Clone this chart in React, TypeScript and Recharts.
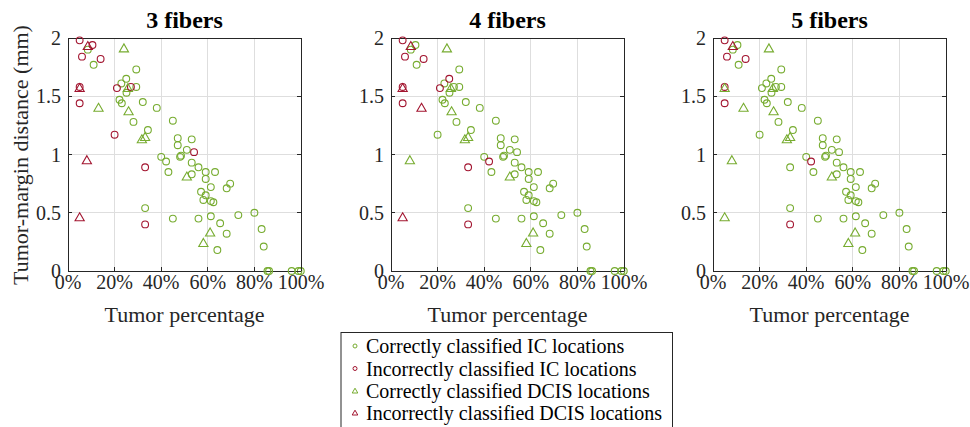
import React from "react";
import { ScatterChart, Scatter, XAxis, YAxis, CartesianGrid, ReferenceArea } from "recharts";

// IC locations: tumor percentage (%), tumor-margin distance (mm)
const icPct = [
  5, 6, 14, 5, 5, 10.5, 8.5, 11, 29.3, 25, 22.9, 21, 27, 29.3, 25.1, 22.1, 23.1, 32.1, 38.1, 28.1,
  20, 34.3, 45, 47.1, 53.1, 47.1, 51, 54.1, 40, 48.1, 48.5, 42.1, 53.1, 56, 53.1, 59.1, 59.1, 63.1,
  33.1, 43.1, 69.6, 68.1, 57.1, 59.1, 58.1, 61.3, 61.3, 62.4, 33.1, 45, 56, 61.3, 65.3, 73.1, 80,
  68.1, 64.1, 83.1, 84, 85.6, 86.3, 96, 98.9, 99.9, 33.1,
];
const icDist = [
  1.98, 1.84, 1.82, 1.58, 1.44, 1.94, 1.9, 1.77, 1.73, 1.65, 1.61, 1.57, 1.58, 1.58, 1.53, 1.47,
  1.44, 1.45, 1.4, 1.28, 1.17, 1.21, 1.29, 1.14, 1.13, 1.08, 1.04, 1.02, 0.98, 0.98, 0.99, 0.94,
  0.93, 0.89, 0.83, 0.85, 0.79, 0.85, 0.89, 0.85, 0.75, 0.71, 0.68, 0.65, 0.61, 0.72, 0.6, 0.59,
  0.54, 0.45, 0.45, 0.47, 0.41, 0.48, 0.5, 0.32, 0.18, 0.36, 0.21, 0, 0, 0, 0, 0, 0.4,
];
// 1 = correctly classified, 0 = incorrectly classified (per number of fibers)
const icOk3 = [
  0, 0, 0, 0, 0, 0, 1, 1, 1, 1, 1, 0, 0, 1, 1, 1, 1, 1, 1, 1, 0, 1, 1, 1, 1, 1, 1, 0, 1, 1, 1, 1,
  1, 1, 1, 1, 1, 1, 0, 1, 1, 1, 1, 1, 1, 1, 1, 1, 1, 1, 1, 1, 1, 1, 1, 1, 1, 1, 1, 1, 1, 1, 1, 1, 0,
];
const icOk4 = [
  0, 0, 0, 0, 0, 1, 1, 1, 1, 0, 1, 0, 1, 1, 1, 1, 1, 1, 1, 1, 1, 1, 1, 1, 1, 1, 1, 1, 1, 1, 1, 0,
  1, 1, 1, 1, 1, 1, 0, 1, 1, 1, 1, 1, 1, 1, 1, 1, 1, 1, 1, 1, 1, 1, 1, 1, 1, 1, 1, 1, 1, 1, 1, 1, 0,
];
const icOk5 = [
  0, 0, 0, 0, 0, 1, 1, 1, 1, 1, 1, 1, 1, 1, 1, 1, 1, 1, 1, 1, 1, 1, 1, 1, 1, 1, 1, 1, 1, 1, 1, 0,
  1, 1, 1, 1, 1, 1, 1, 1, 1, 1, 1, 1, 1, 1, 1, 1, 1, 1, 1, 1, 1, 1, 1, 1, 1, 1, 1, 1, 1, 1, 1, 1, 0,
];

// DCIS locations
const dcisPct = [8.5, 5, 24, 13.1, 26, 25.7, 31.7, 33.1, 51, 61, 58.1, 8.1, 5];
const dcisDist = [1.93, 1.57, 1.91, 1.4, 1.37, 1.57, 1.13, 1.15, 0.81, 0.33, 0.24, 0.95, 0.46];
const dcisOk3 = [0, 0, 1, 1, 1, 1, 1, 1, 1, 1, 1, 0, 0];
const dcisOk4 = [0, 0, 1, 0, 1, 1, 1, 1, 1, 1, 1, 1, 0];
const dcisOk5 = [0, 1, 1, 1, 1, 1, 1, 1, 1, 1, 1, 1, 1];

const panelTitles = ["3 fibers", "4 fibers", "5 fibers"];
const xTicksMinor = [0, 5, 10, 15, 20, 25, 30, 35, 40, 45, 50, 55, 60, 65, 70, 75, 80, 85, 90, 95, 100];
const xTicksMajor = [0, 20, 40, 60, 80, 100];
const yTicks = [0, 0.5, 1, 1.5, 2];
const legendLabels = [
  "Correctly classified IC locations",
  "Incorrectly classified IC locations",
  "Correctly classified DCIS locations",
  "Incorrectly classified DCIS locations",
];

const GREEN = "#77AC30";
const RED = "#A2142F";
const AXIS = "#262626";
const FONT = "'Liberation Serif', 'Times New Roman', serif";

const PLOT_LEFTS = [68, 391, 713];
const PLOT_W = 233;
const PLOT_H = 233;
const Y_AXIS_W = 68;

type Pt = { x: number; y: number };

function pick(pct: number[], dist: number[], ok: number[], want: number): Pt[] {
  const out: Pt[] = [];
  pct.forEach((p, i) => {
    if (ok[i] === want) out.push({ x: p, y: dist[i] });
  });
  return out;
}

const circleShape = (color: string) => (props: any) => (
  <circle cx={props.cx} cy={props.cy} r={3.4} fill="none" stroke={color} strokeWidth={1.1} />
);

const triangleShape = (color: string) => (props: any) => {
  const { cx, cy } = props;
  return (
    <path
      d={`M${cx},${cy - 4.6} L${cx + 4.6},${cy + 3.4} L${cx - 4.6},${cy + 3.4} Z`}
      fill="none"
      stroke={color}
      strokeWidth={1.1}
    />
  );
};

// major ticks + labels on the bottom edge
const BottomTick = (props: any) => {
  const { x, y, payload } = props;
  return (
    <g>
      <line x1={x} x2={x} y1={y} y2={y - 4} stroke={AXIS} strokeWidth={1} shapeRendering="crispEdges" />
      <text x={x} y={y + 18} textAnchor="middle" fontSize={20} fontFamily={FONT} fill={AXIS}>
        {payload.value}%
      </text>
    </g>
  );
};

// all ticks on the top edge, minor ticks mirrored on the bottom edge
const TopTick = (props: any) => {
  const { x, y, payload } = props;
  const major = payload.value % 20 === 0;
  const len = major ? 4 : 2.5;
  return (
    <g>
      <line x1={x} x2={x} y1={y} y2={y + len} stroke={AXIS} strokeWidth={1} shapeRendering="crispEdges" />
      {!major && (
        <line x1={x} x2={x} y1={y + PLOT_H} y2={y + PLOT_H - len} stroke={AXIS} strokeWidth={1} shapeRendering="crispEdges" />
      )}
    </g>
  );
};

// left ticks + labels, mirrored ticks on the right edge
const LeftTick = (props: any) => {
  const { x, y, payload } = props;
  return (
    <g>
      <line x1={x} x2={x + 4} y1={y} y2={y} stroke={AXIS} strokeWidth={1} shapeRendering="crispEdges" />
      <line x1={x + PLOT_W} x2={x + PLOT_W - 4} y1={y} y2={y} stroke={AXIS} strokeWidth={1} shapeRendering="crispEdges" />
      <text x={x - 7} y={y + 7} textAnchor="end" fontSize={20} fontFamily={FONT} fill={AXIS}>
        {payload.value}
      </text>
    </g>
  );
};

function Panel({ idx, icOk, dcisOk }: { idx: number; icOk: number[]; dcisOk: number[] }) {
  const icGood = pick(icPct, icDist, icOk, 1);
  const icBad = pick(icPct, icDist, icOk, 0);
  const dcGood = pick(dcisPct, dcisDist, dcisOk, 1);
  const dcBad = pick(dcisPct, dcisDist, dcisOk, 0);
  return (
    <div style={{ position: "absolute", left: PLOT_LEFTS[idx] - Y_AXIS_W, top: 0 }}>
      <ScatterChart width={330} height={340} margin={{ top: 37, right: 29, bottom: 0, left: 0 }}>
        <CartesianGrid stroke="#dedede" fill="none" shapeRendering="crispEdges" />
        <XAxis
          type="number"
          dataKey="x"
          domain={[0, 100]}
          ticks={xTicksMajor}
          interval={0}
          height={69}
          tickSize={0}
          tickMargin={0}
          tickLine={false}
          tick={<BottomTick />}
          axisLine={{ stroke: AXIS, strokeWidth: 1, shapeRendering: "crispEdges" }}
        />
        <XAxis
          xAxisId="minor"
          orientation="top"
          type="number"
          dataKey="x"
          domain={[0, 100]}
          ticks={xTicksMinor}
          interval={0}
          height={1}
          tickSize={0}
          tickMargin={0}
          tickLine={false}
          tick={<TopTick />}
          axisLine={{ stroke: AXIS, strokeWidth: 1, shapeRendering: "crispEdges" }}
        />
        <YAxis
          type="number"
          dataKey="y"
          domain={[0, 2]}
          ticks={yTicks}
          interval={0}
          width={Y_AXIS_W}
          tickSize={0}
          tickMargin={0}
          tickLine={false}
          tick={<LeftTick />}
          axisLine={{ stroke: AXIS, strokeWidth: 1, shapeRendering: "crispEdges" }}
        />
        <ReferenceArea
          x1={0}
          x2={100}
          y1={0}
          y2={2}
          fill="none"
          stroke={AXIS}
          strokeWidth={1}
          shapeRendering="crispEdges"
          ifOverflow="visible"
        />
        <Scatter data={icGood} shape={circleShape(GREEN)} isAnimationActive={false} />
        <Scatter data={icBad} shape={circleShape(RED)} isAnimationActive={false} />
        <Scatter data={dcGood} shape={triangleShape(GREEN)} isAnimationActive={false} />
        <Scatter data={dcBad} shape={triangleShape(RED)} isAnimationActive={false} />
      </ScatterChart>
    </div>
  );
}

export default function App() {
  const legendColors = [GREEN, RED, GREEN, RED];
  const rowCenters = [346, 368.5, 391, 413];
  return (
    <div style={{ position: "absolute", left: 0, top: 0, width: 970, height: 427, overflow: "hidden", background: "#fff" }}>
      <style>{`.recharts-cartesian-grid line, .recharts-reference-area path, .recharts-cartesian-axis-line { shape-rendering: crispEdges; }`}</style>
      <Panel idx={0} icOk={icOk3} dcisOk={dcisOk3} />
      <Panel idx={1} icOk={icOk4} dcisOk={dcisOk4} />
      <Panel idx={2} icOk={icOk5} dcisOk={dcisOk5} />
      <svg width={970} height={36} style={{ position: "absolute", left: 0, top: 0 }}>
        {panelTitles.map((t, i) => (
          <text key={t} x={PLOT_LEFTS[i] + PLOT_W / 2} y={28} textAnchor="middle" fontSize={24}
            fontWeight="bold" fontFamily={FONT} fill="#000">
            {t}
          </text>
        ))}
      </svg>
      <svg width={970} height={30} style={{ position: "absolute", left: 0, top: 300 }}>
        {PLOT_LEFTS.map((l, i) => (
          <text key={i} x={l + PLOT_W / 2} y={22} textAnchor="middle" fontSize={22} fontFamily={FONT} fill={AXIS}>
            Tumor percentage
          </text>
        ))}
      </svg>
      <svg width={40} height={300} style={{ position: "absolute", left: 0, top: 0 }}>
        <text transform="translate(28,155) rotate(-90)" textAnchor="middle" fontSize={22} fontFamily={FONT} fill={AXIS}>
          Tumor-margin distance (mm)
        </text>
      </svg>
      <svg width={340} height={100} style={{ position: "absolute", left: 336, top: 330 }}>
        <rect x={5} y={2.5} width={331.5} height={110} fill="#fff" stroke={AXIS} strokeWidth={1} />
        {legendLabels.map((lab, i) => {
          const cy = rowCenters[i] - 330;
          const c = legendColors[i];
          return (
            <g key={lab}>
              {i < 2 ? (
                <circle cx={19} cy={cy} r={2} fill="none" stroke={c} strokeWidth={1} />
              ) : (
                <path d={`M19,${cy - 2.8} L21.8,${cy + 2} L16.2,${cy + 2} Z`} fill="none" stroke={c} strokeWidth={1} />
              )}
              <text x={30} y={cy + 7} fontSize={20} fontFamily={FONT} fill="#000">
                {lab}
              </text>
            </g>
          );
        })}
      </svg>
    </div>
  );
}
